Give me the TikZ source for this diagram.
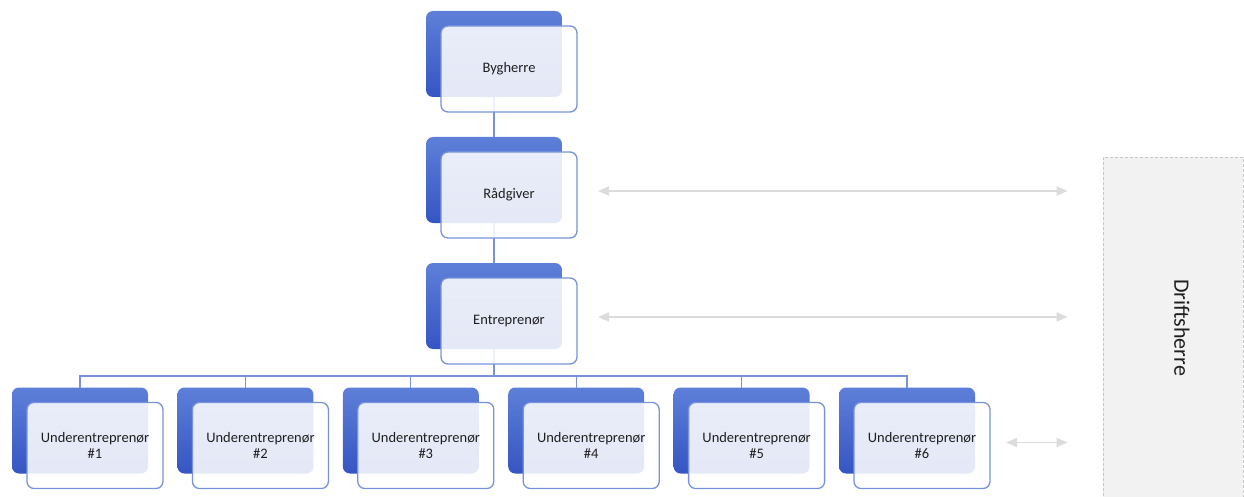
\documentclass[tikz,border=0pt]{standalone}
\usepackage{fontspec}
\setmainfont{Carlito}
\usepackage{tikz}
\usetikzlibrary{arrows.meta, positioning}
\definecolor{boxtop}{HTML}{5E7FD8}
\definecolor{boxbot}{HTML}{3555C3}
\definecolor{boxline}{HTML}{7893DA}
\definecolor{linkgray}{HTML}{DCDCDC}

\begin{document}
\begin{tikzpicture}[x=1pt, y=-1pt, >={Triangle[length=11pt, width=9pt]},
    back/.style={rectangle, rounded corners=7pt, minimum width=136pt, minimum height=86pt, inner sep=0pt, outer sep=0pt, top color=boxtop, bottom color=boxbot, draw=none},
    front/.style={rectangle, rounded corners=7pt, minimum width=136pt, minimum height=86pt, inner sep=0pt, outer sep=0pt, fill=white, fill opacity=0.87, text opacity=1, draw=boxline, line width=1.3pt, align=center, text=black!88, font=\fontsize{14.5}{16}\selectfont},
    link/.style={draw=boxline, line width=1.3pt},
    info/.style={<->, draw=linkgray, line width=1.6pt}]
        \useasboundingbox (0,0) rectangle (1244,497);

        % Nodes (shadow boxes)
        \node[back] (Bb) at (494, 54) {};
        \node[back] (Rb) at (494, 180) {};
        \node[back] (Eb) at (494, 306) {};
        \node[back] (U1b) at (80, 430.5) {};
        \node[back] (U2b) at (245.4, 430.5) {};
        \node[back] (U3b) at (410.8, 430.5) {};
        \node[back] (U4b) at (576.2, 430.5) {};
        \node[back] (U5b) at (741.6, 430.5) {};
        \node[back] (U6b) at (907, 430.5) {};

        % Tree edges
        \coordinate (bus) at (494, 376);
        \draw[link] (Bb) -- (Rb);
        \draw[link] (Rb) -- (Eb);
        \draw[link] (Eb) -- (bus);
        \draw[link] (bus) -| (U1b);
        \draw[link] (bus) -| (U2b);
        \draw[link] (bus) -| (U3b);
        \draw[link] (bus) -| (U4b);
        \draw[link] (bus) -| (U5b);
        \draw[link] (bus) -| (U6b);

        % Nodes (front boxes)
        \node[front] (B) at (509, 69) {Bygherre};
        \node[front] (R) at (509, 195) {Rådgiver};
        \node[front] (E) at (509, 321) {Entreprenør};
        \node[front] (U1) at (95, 445.5) {Underentreprenør\\\#1};
        \node[front] (U2) at (260.4, 445.5) {Underentreprenør\\\#2};
        \node[front] (U3) at (425.8, 445.5) {Underentreprenør\\\#3};
        \node[front] (U4) at (591.2, 445.5) {Underentreprenør\\\#4};
        \node[front] (U5) at (756.6, 445.5) {Underentreprenør\\\#5};
        \node[front] (U6) at (922, 445.5) {Underentreprenør\\\#6};

        % Operator box
        \node[rectangle, rotate=-90, minimum width=345pt, minimum height=140pt, inner sep=0pt, fill=black!5, draw=black!22, dash pattern=on 3pt off 2pt, line width=0.8pt] (D) at (1173, 330) {};
        \node[rotate=-90, text=black!88, font=\fontsize{22}{24}\selectfont] (Dt) at (1182, 327.5) {Driftsherre};

        % Information arrows
        \coordinate (Ra) at ([yshift=4pt]R.east);
        \coordinate (Ea) at ([yshift=4pt]E.east);
        \coordinate (Ua) at ([yshift=3pt]U6.east);
        \draw[info, shorten <=21pt, shorten >=35pt] (Ra) -- (Ra -| D.south);
        \draw[info, shorten <=21pt, shorten >=35pt] (Ea) -- (Ea -| D.south);
        \draw[info, shorten <=16pt, shorten >=35pt] (Ua) -- (Ua -| D.south);
    \end{tikzpicture}
\end{document}
